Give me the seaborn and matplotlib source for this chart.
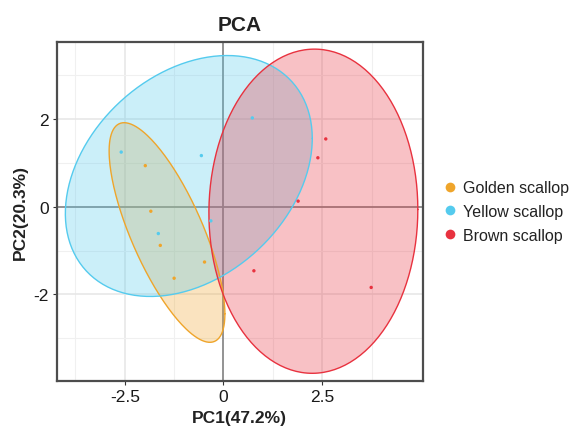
import numpy as np
import pandas as pd
import matplotlib
matplotlib.use("Agg")
import matplotlib.pyplot as plt
import seaborn as sns

# PCA scores
groups = ["Golden scallop", "Yellow scallop", "Brown scallop"]
golden_pc1 = [-1.98, -1.84, -1.60, -1.25, -0.48]
golden_pc2 = [0.94, -0.10, -0.88, -1.63, -1.26]
yellow_pc1 = [-2.59, -0.56, -1.65, -0.32, 0.73]
yellow_pc2 = [1.25, 1.17, -0.61, -0.32, 2.03]
brown_pc1 = [2.59, 2.39, 1.89, 0.77, 3.74]
brown_pc2 = [1.55, 1.12, 0.13, -1.46, -1.84]
colors = ["#EFA52B", "#55CBEE", "#E8323F"]

df = pd.concat([
    pd.DataFrame({"PC1": golden_pc1, "PC2": golden_pc2, "group": groups[0]}),
    pd.DataFrame({"PC1": yellow_pc1, "PC2": yellow_pc2, "group": groups[1]}),
    pd.DataFrame({"PC1": brown_pc1, "PC2": brown_pc2, "group": groups[2]}),
], ignore_index=True)


def ellipse(x, level=0.95, segments=240):
    # normal-theory ellipse: radius from chi-square with 2 df
    loc = x.mean(axis=0)
    cov = np.cov(x, rowvar=False)
    radius = np.sqrt(-2 * np.log(1 - level))
    t = np.linspace(0, 2 * np.pi, segments)
    circle = np.column_stack([np.cos(t), np.sin(t)])
    chol = np.linalg.cholesky(cov).T
    return loc + radius * circle @ chol


sns.set_style("white")
plt.rcParams["font.family"] = ["Liberation Sans", "DejaVu Sans"]
plt.rcParams["axes.unicode_minus"] = False

fig = plt.figure(figsize=(5.78, 4.27), dpi=100)
ax = fig.add_axes([0.099, 0.106, 0.632, 0.793])

for g, c in zip(groups, colors):
    pts = df.loc[df["group"] == g, ["PC1", "PC2"]].to_numpy()
    e = ellipse(pts)
    ax.fill(e[:, 0], e[:, 1], facecolor=c, alpha=0.3, edgecolor="none", zorder=2)
    ax.plot(e[:, 0], e[:, 1], color=c, lw=1.0, zorder=3)

ax.axhline(0, color="#8c8c8c", lw=1.3, zorder=1.5)
ax.axvline(0, color="#8c8c8c", lw=1.3, zorder=1.5)

sns.scatterplot(data=df, x="PC1", y="PC2", hue="group", hue_order=groups,
                palette=colors, s=6, edgecolor="none", ax=ax, zorder=4)

ax.set_xlim(-4.21, 5.04)
ax.set_ylim(-3.97, 3.76)
ax.set_xticks([-2.5, 0, 2.5])
ax.set_xticklabels(["-2.5", "0", "2.5"])
ax.set_yticks([-2, 0, 2])
ax.set_xticks([-3.75, -1.25, 1.25, 3.75], minor=True)
ax.set_yticks([-3, -1, 1, 3], minor=True)
ax.grid(which="major", color="#e6e6e6", lw=1.1, zorder=0)
ax.grid(which="minor", color="#f0f0f0", lw=0.8, zorder=0)
ax.set_axisbelow(True)
ax.tick_params(which="major", direction="out", length=3, width=0.8, color="#333333",
               labelsize=12.5, labelcolor="#1a1a1a", pad=3, left=True, bottom=True)
ax.tick_params(which="minor", length=0)
for sp in ax.spines.values():
    sp.set_color("#4d4d4d")
    sp.set_linewidth(1.6)

ax.set_title("PCA", fontsize=15, fontweight="bold", color="#222222", pad=9)
ax.set_xlabel("PC1(47.2%)", fontsize=12.5, fontweight="bold", color="#222222", labelpad=4)
ax.set_ylabel("PC2(20.3%)", fontsize=12.5, fontweight="bold", color="#222222", labelpad=4)

handles = [plt.Line2D([], [], marker="o", ls="", markersize=7, markerfacecolor=c,
                      markeredgecolor="none") for c in colors]
ax.legend(handles, groups, loc="center left", bbox_to_anchor=(1.01, 0.5), frameon=False,
          fontsize=11.5, handletextpad=0.2, labelspacing=0.55, handlelength=1.2,
          labelcolor="#222222")

fig.savefig("out.png", dpi=100)
